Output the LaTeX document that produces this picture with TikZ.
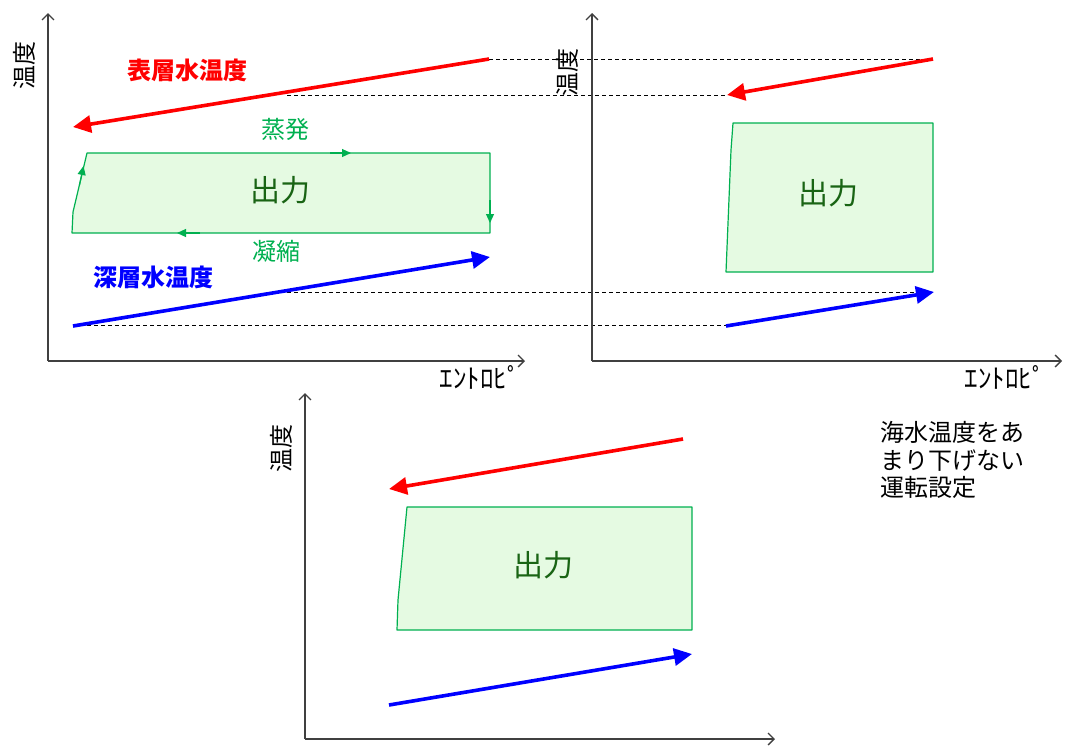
\documentclass[tikz,border=0pt]{standalone}
\usepackage{fontspec}
\setmainfont{Noto Sans CJK JP}
\usetikzlibrary{arrows.meta}
\definecolor{cycgreen}{RGB}{0,176,80}
\definecolor{cycfill}{RGB}{229,250,226}
\definecolor{outgreen}{RGB}{25,100,20}
\definecolor{axisgray}{RGB}{64,64,64}
\tikzset{
  axis/.style={axisgray, line width=1.3pt, -{Straight Barb[length=6pt,width=12pt]}},
  hot/.style={red, line width=3.6pt, -{Triangle[length=18pt,width=17pt]}},
  cold/.style={blue, line width=3.6pt, -{Triangle[length=18pt,width=17pt]}},
  guide/.style={black, line width=1pt, dash pattern=on 4pt off 3pt},
  cyclebox/.style={draw=cycgreen, fill=cycfill, line width=1.2pt, line join=round},
  flowtip/.style={cycgreen, line width=1.2pt, -{Triangle[length=9pt,width=8pt]}},
  lbl/.style={inner sep=0pt, font=\fontsize{24}{28}\selectfont},
  xlbl/.style={inner sep=0pt, font=\fontsize{27}{30}\selectfont},
  outlbl/.style={inner sep=0pt, text=outgreen, font=\fontsize{30}{34}\selectfont},
}
\begin{document}
\begin{tikzpicture}[x=1pt,y=-1pt]
  \useasboundingbox (0,0) rectangle (1067,745);

  % guide lines between the two upper charts
  \draw[guide] (489,59) -- (933,59);
  \draw[guide] (287,95) -- (727,95);
  \draw[guide] (287,292) -- (933,292);
  \draw[guide] (73,325) -- (726,325);

  % upper left chart
  \draw[axis] (48,361) -- (48,13);
  \draw[axis] (48,361) -- (525,361);
  \node[lbl, rotate=90] (tA) at (24,65) {温度};
  \node[xlbl] (sA) at (480,377) {ｴﾝﾄﾛﾋﾟ};
  \draw[cyclebox] (72,233) -- (73,212) -- (87,153) -- (490,153) -- (490,233) -- cycle;
  \draw[flowtip] (79.5,185) -- (83.5,166);
  \draw[flowtip] (330,153) -- (351,153);
  \draw[flowtip] (490,200) -- (490,223);
  \draw[flowtip] (200,233) -- (177,233);
  \node[outlbl] (wA) at (280,190) {出力};
  \node[lbl, text=cycgreen] (evap) at (285,129) {蒸発};
  \node[lbl, text=cycgreen] (cond) at (276,251) {凝縮};
  \node[lbl, text=red, font=\fontsize{24}{28}\selectfont\bfseries] (surf) at (187,70) {表層水温度};
  \node[lbl, text=blue, font=\fontsize{24}{28}\selectfont\bfseries] (deep) at (153,277) {深層水温度};
  \coordinate (hA1) at (489,59);
  \coordinate (hA2) at (73,127);
  \coordinate (cA1) at (73,326);
  \coordinate (cA2) at (490,257);
  \draw[hot] (hA1) -- (hA2);
  \draw[cold] (cA1) -- (cA2);

  % upper right chart
  \draw[axis] (592,361) -- (592,13);
  \draw[axis] (592,361) -- (1062,361);
  \node[lbl, rotate=90] (tB) at (567,72) {温度};
  \node[xlbl] (sB) at (1005,377) {ｴﾝﾄﾛﾋﾟ};
  \draw[cyclebox] (726,272) -- (731,150) -- (733,123) -- (933,123) -- (933,272) -- cycle;
  \node[outlbl] (wB) at (828,193) {出力};
  \coordinate (hB1) at (933,59);
  \coordinate (hB2) at (727,95);
  \coordinate (cB1) at (726,326);
  \coordinate (cB2) at (934,292);
  \draw[hot] (hB1) -- (hB2);
  \draw[cold] (cB1) -- (cB2);

  % lower chart
  \draw[axis] (305,739) -- (305,393);
  \draw[axis] (305,739) -- (775,739);
  \node[lbl, rotate=90] (tC) at (281,448) {温度};
  \draw[cyclebox] (397,630) -- (398,600) -- (407,507) -- (692,507) -- (692,630) -- cycle;
  \node[outlbl] (wC) at (543,565) {出力};
  \coordinate (hC1) at (683,439);
  \coordinate (hC2) at (389,489);
  \coordinate (cC1) at (389,705);
  \coordinate (cC2) at (692,654);
  \draw[hot] (hC1) -- (hC2);
  \draw[cold] (cC1) -- (cC2);

  % note
  \node[lbl, anchor=west, align=left, font=\fontsize{24}{27.5}\selectfont] (note) at (880,460)
    {海水温度をあ\\まり下げない\\運転設定};
\end{tikzpicture}
\end{document}
